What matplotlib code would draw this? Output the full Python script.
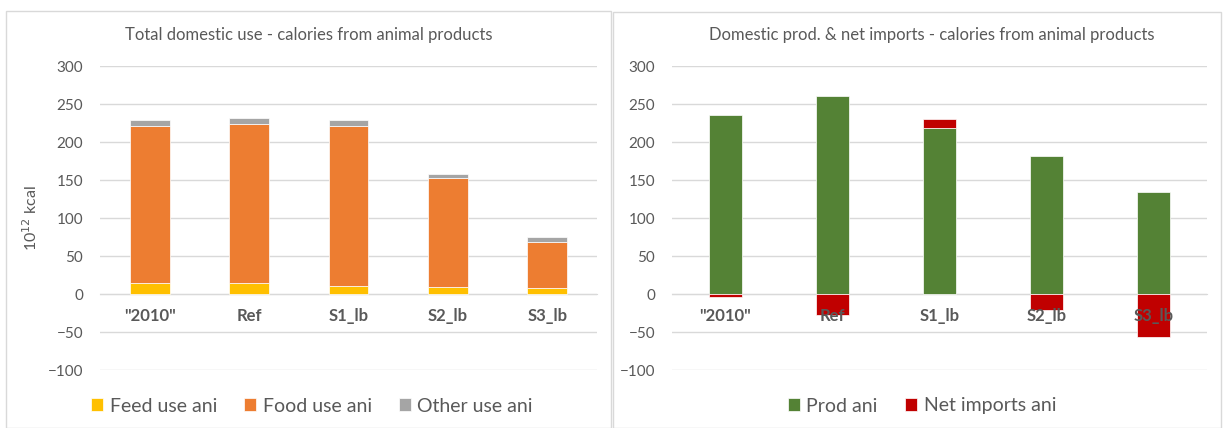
import matplotlib
matplotlib.use("Agg")
import matplotlib.pyplot as plt
from matplotlib.patches import Rectangle
import numpy as np

plt.rcParams['font.family'] = ['Lato', 'DejaVu Sans']

# data (10^12 kcal)
categories = ['"2010"', 'Ref', 'S1_lb', 'S2_lb', 'S3_lb']
feed_use = [14, 14, 11, 9, 8]
food_use = [207, 210, 210, 143, 61]
other_use = [8, 8, 8, 6.5, 6.5]
prod_ani = [235, 261, 218, 181, 134]
net_imports = [-4, -28, 12, -21, -56]

yticks = [-100, -50, 0, 50, 100, 150, 200, 250, 300]

txt_col = '#595959'
grid_col = '#D9D9D9'

fig = plt.figure(figsize=(12.23, 4.28), dpi=100)

# panel frames
fig.patches.append(Rectangle((6 / 1223, 0), 605 / 1223, 1 - 11 / 428,
                             transform=fig.transFigure, fill=False,
                             edgecolor=grid_col, lw=1))
fig.patches.append(Rectangle((613 / 1223, 0), 608 / 1223, 1 - 12 / 428,
                             transform=fig.transFigure, fill=False,
                             edgecolor=grid_col, lw=1))

ax1 = fig.add_axes([100 / 1223, 1 - 370 / 428, 497 / 1223, 304 / 428])
ax2 = fig.add_axes([672 / 1223, 1 - 370 / 428, 535 / 1223, 304 / 428])

x = np.arange(len(categories))

def style(ax):
    ax.set_ylim(-100, 300)
    ax.set_xlim(-0.5, len(categories) - 0.5)
    ax.set_yticks(yticks)
    ax.yaxis.grid(True, color=grid_col, lw=1)
    ax.set_axisbelow(True)
    for s in ['top', 'right', 'left']:
        ax.spines[s].set_visible(False)
    ax.spines['bottom'].set_position(('data', 0))
    ax.spines['bottom'].set_color(grid_col)
    ax.spines['bottom'].set_zorder(0.5)
    ax.set_xticks(x)
    ax.set_xticklabels(categories, fontsize=12, fontweight='bold', color=txt_col)
    ax.xaxis.set_zorder(3)
    ax.tick_params(axis='x', length=0, pad=10)
    ax.tick_params(axis='y', length=0, labelsize=11, labelcolor=txt_col, pad=12)
    ax.set_facecolor('none')

# left: stacked domestic use
w1 = 0.4
feed = np.array(feed_use)
food = np.array(food_use)
other = np.array(other_use)
ax1.bar(x, feed, w1, color='#FFC000', edgecolor='white', lw=0.5, label='Feed use ani')
ax1.bar(x, food, w1, bottom=feed, color='#ED7D31', edgecolor='white', lw=0.5, label='Food use ani')
ax1.bar(x, other, w1, bottom=feed + food, color='#A5A5A5', edgecolor='white', lw=0.5, label='Other use ani')
style(ax1)
ax1.set_ylabel('10$^{12}$ kcal', fontsize=11.5, color=txt_col)
ax1.yaxis.set_label_coords(-0.12, 0.5)

# right: production & net imports (positive imports stack on top)
w2 = 0.31
prod = np.array(prod_ani)
imp = np.array(net_imports)
imp_bottom = np.where(imp > 0, prod, 0)
ax2.bar(x, prod, w2, color='#548235', edgecolor='white', lw=0.5, label='Prod ani')
ax2.bar(x, imp, w2, bottom=imp_bottom, color='#C00000', edgecolor='white', lw=0.5, label='Net imports ani')
style(ax2)

fig.text(309 / 1223, 1 - 35 / 428, 'Total domestic use - calories from animal products',
         ha='center', va='center', fontsize=12, color=txt_col)
fig.text(932 / 1223, 1 - 35 / 428, 'Domestic prod. & net imports - calories from animal products',
         ha='center', va='center', fontsize=12, color=txt_col)

leg_kw = dict(loc='center', frameon=False, ncol=3, fontsize=14, labelcolor=txt_col,
              handlelength=0.6, handleheight=0.6, handletextpad=0.35, columnspacing=1.4)
fig.legend(*ax1.get_legend_handles_labels(), bbox_to_anchor=(312 / 1223, 1 - 406 / 428), **leg_kw)
fig.legend(*ax2.get_legend_handles_labels(), bbox_to_anchor=(922 / 1223, 1 - 406 / 428), **leg_kw)

fig.savefig('out.png', dpi=100)
